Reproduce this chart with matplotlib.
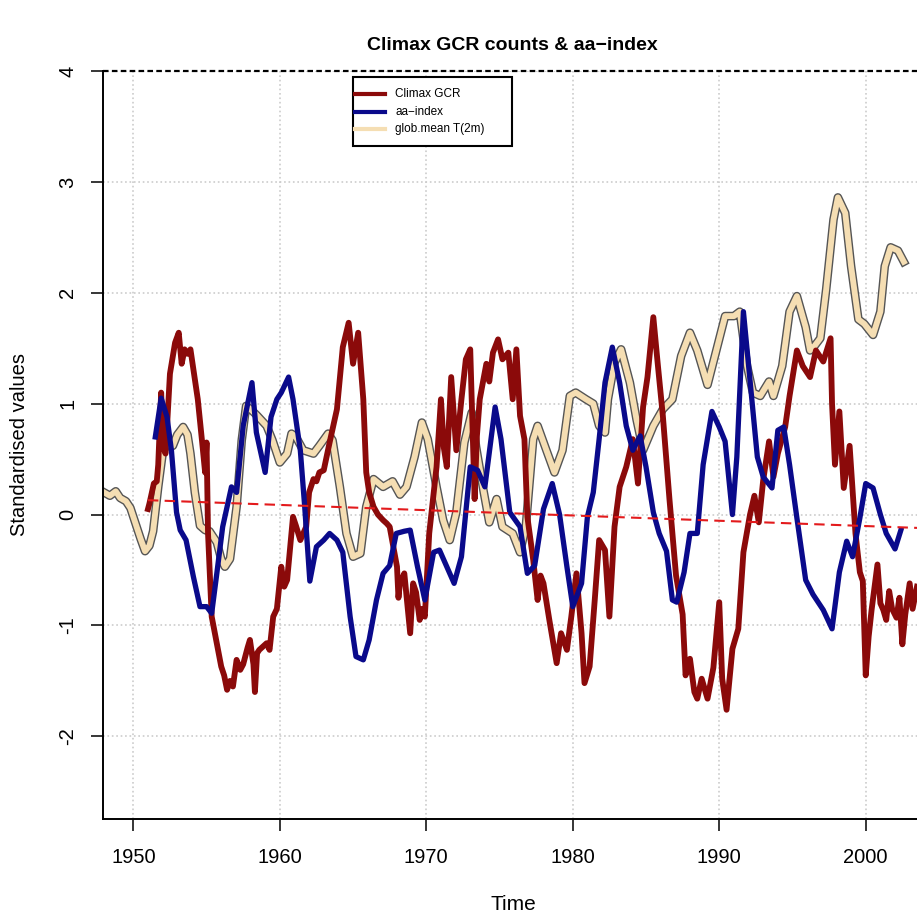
import numpy as np
import matplotlib
matplotlib.use("Agg")
import matplotlib.pyplot as plt
from matplotlib.patches import Rectangle
from matplotlib.lines import Line2D
import matplotlib.patheffects as pe

plt.rcParams['font.family'] = ['Liberation Sans', 'DejaVu Sans']

# glob.mean T(2m)
tan_years = [1948.0, 1948.4, 1948.8, 1949.1, 1949.5, 1949.8, 1950.2, 1950.5, 1950.8, 1951.1,
             1951.35, 1951.7, 1952.0, 1952.4, 1952.7, 1953.0, 1953.4, 1953.7, 1953.9, 1954.2,
             1954.55, 1954.9, 1955.2, 1955.7, 1956.0, 1956.25, 1956.6, 1957.05, 1957.4, 1957.7,
             1958.0, 1958.4, 1959.1, 1959.5, 1960.0, 1960.5, 1960.8, 1961.1, 1961.6, 1962.3,
             1962.7, 1963.3, 1963.6, 1964.1, 1964.55, 1965.0, 1965.5, 1965.9, 1966.4, 1967.05,
             1967.7, 1968.2, 1968.65, 1969.2, 1969.7, 1970.1, 1970.7, 1971.15, 1971.6, 1972.05,
             1972.6, 1973.1, 1973.4, 1973.9, 1974.3, 1974.8, 1975.2, 1975.9, 1976.4, 1976.8,
             1977.3, 1977.6, 1978.2, 1978.75, 1979.3, 1979.8, 1980.2, 1980.9, 1981.4, 1981.8,
             1982.2, 1982.4, 1982.85, 1983.3, 1983.9, 1984.35, 1984.8, 1985.5, 1986.15, 1986.8,
             1987.4, 1988.0, 1988.5, 1989.2, 1989.8, 1990.4, 1991.0, 1991.4, 1991.9, 1992.3,
             1992.8, 1993.4, 1993.7, 1994.3, 1994.8, 1995.3, 1995.9, 1996.2, 1996.5, 1996.9,
             1997.3, 1997.8, 1998.1, 1998.6, 1999.0, 1999.5, 1999.9, 2000.5, 2001.0, 2001.3,
             2001.7, 2002.2, 2002.6]
tan_vals = [0.20, 0.17, 0.21, 0.15, 0.12, 0.06, -0.10, -0.22, -0.33, -0.28,
            -0.15, 0.25, 0.55, 0.67, 0.62, 0.72, 0.79, 0.72, 0.55, 0.20,
            -0.10, -0.14, -0.15, -0.25, -0.40, -0.47, -0.40, 0.07, 0.67, 0.98,
            0.95, 0.90, 0.80, 0.67, 0.47, 0.55, 0.73, 0.70, 0.58, 0.55,
            0.62, 0.73, 0.67, 0.25, -0.17, -0.38, -0.35, 0.07, 0.32, 0.25,
            0.30, 0.18, 0.25, 0.52, 0.83, 0.68, 0.25, -0.05, -0.23, 0.02,
            0.65, 0.92, 0.61, 0.22, -0.07, 0.14, -0.11, -0.17, -0.34, -0.10,
            0.68, 0.80, 0.58, 0.38, 0.58, 1.07, 1.10, 1.04, 1.00, 0.80,
            0.74, 1.04, 1.37, 1.49, 1.19, 0.86, 0.58, 0.80, 0.95, 1.04,
            1.43, 1.64, 1.48, 1.17, 1.48, 1.79, 1.79, 1.83, 1.34, 1.10,
            1.07, 1.20, 1.07, 1.34, 1.83, 1.97, 1.69, 1.48, 1.52, 1.59,
            2.03, 2.66, 2.86, 2.72, 2.24, 1.76, 1.72, 1.62, 1.83, 2.24,
            2.41, 2.38, 2.28]

# aa-index
aa_years = [1951.5, 1951.9, 1952.3, 1952.6, 1952.95, 1953.2, 1953.6, 1954.1, 1954.55, 1955.0,
            1955.35, 1955.7, 1956.1, 1956.7, 1957.05, 1957.5, 1958.1, 1958.4, 1959.0, 1959.4,
            1959.8, 1960.1, 1960.6, 1960.9, 1961.4, 1961.7, 1962.05, 1962.5, 1963.0, 1963.4,
            1963.9, 1964.3, 1964.8, 1965.2, 1965.7, 1966.1, 1966.6, 1967.05, 1967.5, 1967.95,
            1968.5, 1968.9, 1969.4, 1969.9, 1970.5, 1970.9, 1971.4, 1971.9, 1972.4, 1973.0,
            1973.5, 1974.0, 1974.7, 1975.1, 1975.7, 1976.4, 1976.9, 1977.4, 1978.0, 1978.6,
            1979.1, 1979.6, 1980.0, 1980.6, 1981.0, 1981.4, 1981.8, 1982.2, 1982.7, 1983.2,
            1983.65, 1984.1, 1984.6, 1985.0, 1985.5, 1985.9, 1986.4, 1986.8, 1987.1, 1987.6,
            1988.0, 1988.5, 1988.9, 1989.5, 1990.0, 1990.4, 1990.9, 1991.2, 1991.65, 1992.1,
            1992.6, 1993.0, 1993.6, 1994.0, 1994.4, 1994.8, 1995.3, 1995.9, 1996.4, 1997.1,
            1997.7, 1998.2, 1998.7, 1999.1, 1999.6, 2000.0, 2000.5, 2001.0, 2001.4, 2002.0,
            2002.4]
aa_vals = [0.70, 1.05, 0.88, 0.58, 0.02, -0.14, -0.23, -0.56, -0.83, -0.83,
           -0.89, -0.53, -0.11, 0.25, 0.20, 0.80, 1.19, 0.74, 0.38, 0.88,
           1.04, 1.10, 1.24, 1.04, 0.58, 0.07, -0.60, -0.29, -0.23, -0.17,
           -0.23, -0.34, -0.92, -1.28, -1.31, -1.13, -0.77, -0.53, -0.46, -0.17,
           -0.15, -0.14, -0.47, -0.77, -0.34, -0.32, -0.47, -0.62, -0.38, 0.43,
           0.40, 0.25, 0.97, 0.68, 0.02, -0.11, -0.53, -0.46, 0.05, 0.28,
           0.00, -0.47, -0.83, -0.62, -0.02, 0.20, 0.68, 1.19, 1.51, 1.19,
           0.80, 0.58, 0.71, 0.43, 0.02, -0.17, -0.33, -0.77, -0.79, -0.52,
           -0.17, -0.17, 0.45, 0.93, 0.79, 0.66, 0.00, 0.52, 1.83, 1.21,
           0.52, 0.34, 0.24, 0.76, 0.79, 0.45, -0.03, -0.59, -0.72, -0.86,
           -1.03, -0.52, -0.24, -0.38, -0.03, 0.28, 0.24, 0.00, -0.17, -0.31,
           -0.14]

# Climax GCR
gcr_years = [1951.0, 1951.1, 1951.4, 1951.6, 1951.7, 1951.9, 1952.05, 1952.2, 1952.5, 1952.85,
             1953.1, 1953.3, 1953.5, 1953.7, 1953.9, 1954.2, 1954.4, 1954.7, 1954.9, 1955.0,
             1955.1, 1955.35, 1955.7, 1956.0, 1956.2, 1956.4, 1956.6, 1956.8, 1957.05, 1957.3,
             1957.5, 1957.8, 1957.96, 1958.2, 1958.3, 1958.45, 1958.6, 1959.1, 1959.3, 1959.55,
             1959.8, 1960.1, 1960.3, 1960.5, 1960.9, 1961.1, 1961.4, 1961.8, 1962.0, 1962.3,
             1962.5, 1962.7, 1963.0, 1963.4, 1963.9, 1964.3, 1964.7, 1965.0, 1965.35, 1965.7,
             1965.9, 1966.1, 1966.4, 1966.7, 1967.05, 1967.3, 1967.5, 1968.0, 1968.1, 1968.2,
             1968.5, 1968.7, 1968.9, 1969.1, 1969.3, 1969.55, 1969.7, 1969.9, 1970.2, 1970.7,
             1971.0, 1971.2, 1971.4, 1971.7, 1972.05, 1972.4, 1972.7, 1973.0, 1973.15, 1973.3,
             1973.45, 1973.65, 1974.1, 1974.3, 1974.55, 1974.9, 1975.2, 1975.6, 1975.9, 1976.15,
             1976.4, 1976.7, 1976.9, 1977.3, 1977.6, 1977.8, 1978.0, 1978.4, 1978.9, 1979.2,
             1979.6, 1979.9, 1980.25, 1980.6, 1980.8, 1981.15, 1981.5, 1981.8, 1982.2, 1982.5,
             1982.85, 1983.2, 1983.65, 1984.1, 1984.45, 1984.8, 1985.1, 1985.5, 1985.8, 1986.15,
             1986.6, 1987.05, 1987.5, 1987.7, 1988.0, 1988.3, 1988.5, 1988.8, 1989.2, 1989.6,
             1990.0, 1990.2, 1990.5, 1990.9, 1991.3, 1991.65, 1992.1, 1992.4, 1992.7, 1993.0,
             1993.4, 1993.7, 1994.0, 1994.5, 1994.8, 1995.3, 1995.7, 1996.2, 1996.6, 1997.1,
             1997.6, 1997.7, 1997.9, 1998.2, 1998.5, 1998.9, 1999.3, 1999.6, 1999.8, 2000.0,
             2000.2, 2000.4, 2000.8, 2001.0, 2001.2, 2001.4, 2001.6, 2001.8, 2002.1, 2002.3,
             2002.5, 2002.7, 2003.0, 2003.2, 2003.5]
gcr_vals = [0.05, 0.10, 0.28, 0.30, 0.45, 1.10, 0.60, 0.55, 1.27, 1.55,
            1.64, 1.36, 1.49, 1.45, 1.49, 1.22, 1.04, 0.65, 0.38, 0.65,
            -0.17, -0.92, -1.16, -1.37, -1.45, -1.58, -1.50, -1.55, -1.31, -1.40,
            -1.35, -1.20, -1.13, -1.35, -1.60, -1.25, -1.22, -1.16, -1.22, -0.92,
            -0.85, -0.47, -0.65, -0.59, -0.02, -0.10, -0.23, -0.11, 0.20, 0.32,
            0.30, 0.38, 0.40, 0.65, 0.95, 1.51, 1.73, 1.36, 1.64, 1.04,
            0.38, 0.20, 0.07, 0.00, -0.05, -0.08, -0.11, -0.47, -0.75, -0.62,
            -0.53, -0.80, -1.07, -0.62, -0.70, -0.95, -0.85, -0.92, -0.17, 0.43,
            1.04, 0.60, 0.43, 1.24, 0.58, 1.04, 1.40, 1.49, 0.80, 0.14,
            0.70, 1.04, 1.36, 1.20, 1.46, 1.58, 1.40, 1.46, 1.04, 1.49,
            0.89, 0.68, -0.02, -0.41, -0.77, -0.55, -0.62, -0.95, -1.34, -1.07,
            -1.22, -0.92, -0.53, -1.07, -1.52, -1.37, -0.77, -0.23, -0.32, -0.92,
            -0.11, 0.25, 0.43, 0.68, 0.28, 0.97, 1.24, 1.78, 1.36, 0.89,
            0.14, -0.55, -0.90, -1.45, -1.30, -1.60, -1.66, -1.48, -1.66, -1.38,
            -0.79, -1.48, -1.76, -1.21, -1.03, -0.34, 0.00, 0.17, -0.07, 0.31,
            0.66, 0.34, 0.55, 0.79, 1.07, 1.48, 1.34, 1.24, 1.48, 1.38,
            1.59, 1.00, 0.45, 0.93, 0.24, 0.62, -0.17, -0.52, -0.60, -1.45,
            -1.10, -0.86, -0.45, -0.80, -0.86, -0.95, -0.69, -0.85, -0.93, -0.75,
            -1.17, -0.90, -0.62, -0.85, -0.65]

# linear trend (red dashed)
trend_years = [1951.0, 2003.5]
trend_vals = [0.13, -0.12]

x_ticks = [1950, 1960, 1970, 1980, 1990, 2000]
y_ticks = [-2, -1, 0, 1, 2, 3, 4]

W, H = 917, 916
fig = plt.figure(figsize=(W / 100, H / 100), dpi=100)
ax = fig.add_axes([103.3 / W, 1 - 819 / H, (W - 103.3) / W, (819 - 71) / H])

ax.set_xlim(1947.95, 2003.5)
ax.set_ylim(-2.745, 4)

ax.grid(True, color='#cccccc', linestyle=':', linewidth=1.2)
ax.set_axisbelow(True)

ax.plot(tan_years, tan_vals, color='#F5DEB3', lw=4.2, solid_joinstyle='round',
        path_effects=[pe.Stroke(linewidth=6.2, foreground='#555555'), pe.Normal()])
ax.plot(gcr_years, gcr_vals, color='#8B0A0A', lw=4.2)
ax.plot(aa_years, aa_vals, color='#0A0A8B', lw=3.8)
ax.plot(trend_years, trend_vals, color='#e31a1c', lw=1.5, dashes=(5, 3))

ax.axhline(4, color='black', lw=1.6, dashes=(2.5, 1.5), clip_on=False)

for s in ['top', 'right']:
    ax.spines[s].set_visible(False)
for s in ['left', 'bottom']:
    ax.spines[s].set_linewidth(1.4)

ax.set_xticks(x_ticks)
ax.set_yticks(y_ticks)
ax.set_xticklabels([str(v) for v in x_ticks])
ax.set_yticklabels([str(v) for v in y_ticks])
ax.tick_params(direction='out', length=8.6, width=1.1, labelsize=14.5, color='black')
ax.tick_params(axis='x', pad=12)
ax.tick_params(axis='y', pad=10)
for lab in ax.get_yticklabels():
    lab.set_rotation(90)
    lab.set_va('center')
    lab.set_ha('center')
ax.tick_params(axis='y', pad=17)

fig.text(512 / W, 1 - 45 / H, 'Climax GCR counts & aa\u2212index', ha='center', va='center',
         fontsize=14, fontweight='bold')
fig.text(513 / W, 1 - 905 / H, 'Time', ha='center', va='center', fontsize=15)
fig.text(20 / W, 1 - 445 / H, 'Standardised values', ha='center', va='center',
         rotation=90, fontsize=14.5)

# legend box
def fx(px):
    return px / W

def fy(py):
    return 1 - py / H

fig.add_artist(Rectangle((fx(352.5), fy(146)), fx(512) - fx(352.5), fy(77) - fy(146),
                         transform=fig.transFigure, facecolor='white', edgecolor='black',
                         lw=1.5, zorder=5))
leg_labels = ['Climax GCR', 'aa\u2212index', 'glob.mean T(2m)']
leg_colors = ['#8B0A0A', '#0A0A8B', '#F5DEB3']
leg_rows = [94, 111.7, 129.3]
for lab, col, ry in zip(leg_labels, leg_colors, leg_rows):
    fig.add_artist(Line2D([fx(355), fx(385)], [fy(ry), fy(ry)], transform=fig.transFigure,
                          color=col, lw=3, zorder=6))
    fig.text(fx(395), fy(ry), lab, ha='left', va='center', fontsize=8.5, zorder=6)

fig.savefig('out.png', dpi=100)
